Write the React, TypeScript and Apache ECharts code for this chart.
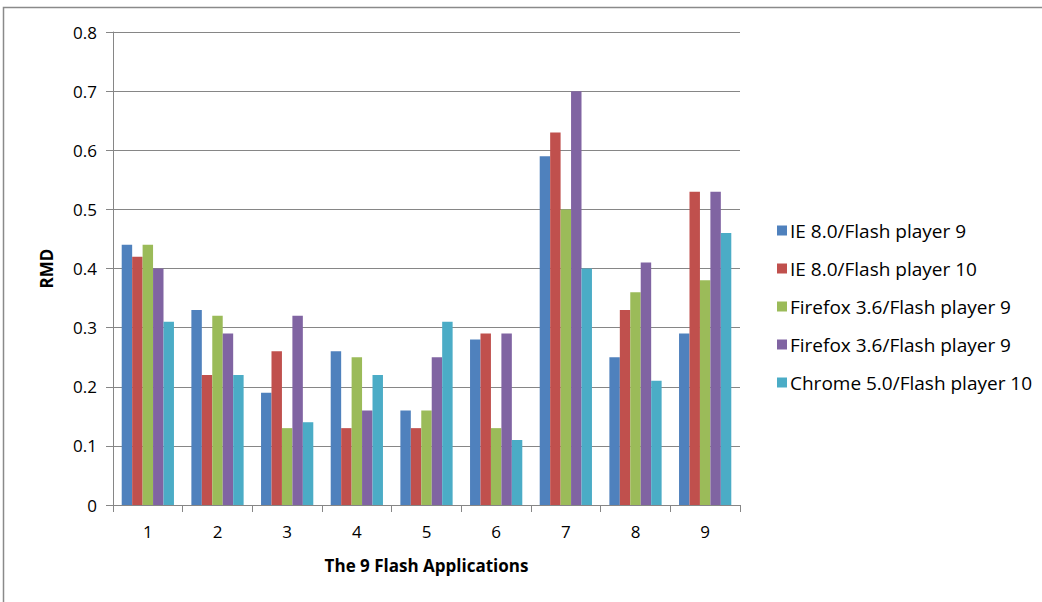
import React, { useEffect, useRef } from "react";
import * as echarts from "echarts";

const categories = ["1", "2", "3", "4", "5", "6", "7", "8", "9"];
const seriesNames = [
  "IE 8.0/Flash player 9",
  "IE 8.0/Flash player 10",
  "Firefox 3.6/Flash player 9",
  "Firefox 3.6/Flash player 9 ",
  "Chrome 5.0/Flash player 10",
];
const legendLabels = [
  "IE 8.0/Flash player 9",
  "IE 8.0/Flash player 10",
  "Firefox 3.6/Flash player 9",
  "Firefox 3.6/Flash player 9",
  "Chrome 5.0/Flash player 10",
];
const ie8fp9 = [0.44, 0.33, 0.19, 0.26, 0.16, 0.28, 0.59, 0.25, 0.29];
const ie8fp10 = [0.42, 0.22, 0.26, 0.13, 0.13, 0.29, 0.63, 0.33, 0.53];
const ff36fp9a = [0.44, 0.32, 0.13, 0.25, 0.16, 0.13, 0.5, 0.36, 0.38];
const ff36fp9b = [0.4, 0.29, 0.32, 0.16, 0.25, 0.29, 0.7, 0.41, 0.53];
const chrome5fp10 = [0.31, 0.22, 0.14, 0.22, 0.31, 0.11, 0.4, 0.21, 0.46];
const colors = ["#4F81BD", "#C0504D", "#9BBB59", "#8064A2", "#4BACC6"];

export default function App() {
  const ref = useRef<HTMLDivElement>(null);
  useEffect(() => {
    if (!ref.current) return;
    const chart = echarts.init(ref.current, undefined, { renderer: "svg" });
    const data = [ie8fp9, ie8fp10, ff36fp9a, ff36fp9b, chrome5fp10];
    const font = "Open Sans, Noto Sans, sans-serif";
    chart.setOption({
      animation: false,
      backgroundColor: "#ffffff",
      textStyle: { fontFamily: font },
      graphic: [
        {
          type: "rect",
          shape: { x: 3.5, y: 7.5, width: 1045, height: 600 },
          style: { fill: "none", stroke: "#8a8a8a", lineWidth: 1.5 },
          silent: true,
        },
      ],
      grid: { left: 113, right: 302, top: 32, bottom: 97, containLabel: false },
      legend: {
        orient: "vertical",
        left: 772,
        top: 216,
        itemWidth: 10,
        itemHeight: 10,
        itemGap: 19,
        icon: "rect",
        formatter: (name: string) => legendLabels[seriesNames.indexOf(name)],
        textStyle: { fontSize: 19, color: "#000", fontFamily: font, padding: [0, 0, 0, -2] },
        data: seriesNames,
      },
      xAxis: {
        type: "category",
        data: categories,
        name: "The 9 Flash Applications",
        nameLocation: "middle",
        nameGap: 52,
        nameTextStyle: { fontSize: 17, fontWeight: "bold", color: "#000" },
        axisLine: { lineStyle: { color: "#868686", width: 1 } },
        axisTick: { show: true, alignWithLabel: false, length: 7, lineStyle: { color: "#868686" } },
        axisLabel: { fontSize: 17, color: "#000", margin: 18 },
      },
      yAxis: {
        type: "value",
        min: 0,
        max: 0.8,
        interval: 0.1,
        name: "RMD",
        nameLocation: "middle",
        nameGap: 58,
        nameRotate: 90,
        nameTextStyle: { fontSize: 17, fontWeight: "bold", color: "#000" },
        axisLine: { show: true, lineStyle: { color: "#868686", width: 1 } },
        axisTick: { show: true, length: 7, lineStyle: { color: "#868686" } },
        axisLabel: {
          fontSize: 17,
          color: "#000",
          margin: 16,
          formatter: (v: number) => (v === 0 ? "0" : v.toFixed(1)),
        },
        splitLine: { show: true, lineStyle: { color: "#868686", width: 1 } },
      },
      series: data.map((d, i) => ({
        name: seriesNames[i],
        type: "bar",
        data: d,
        barGap: "0%",
        barCategoryGap: "25%",
        itemStyle: { color: colors[i] },
      })),
    });
    return () => chart.dispose();
  }, []);
  return (
    <div
      ref={ref}
      style={{ position: "fixed", left: 0, top: 0, width: 1042, height: 602 }}
    />
  );
}
